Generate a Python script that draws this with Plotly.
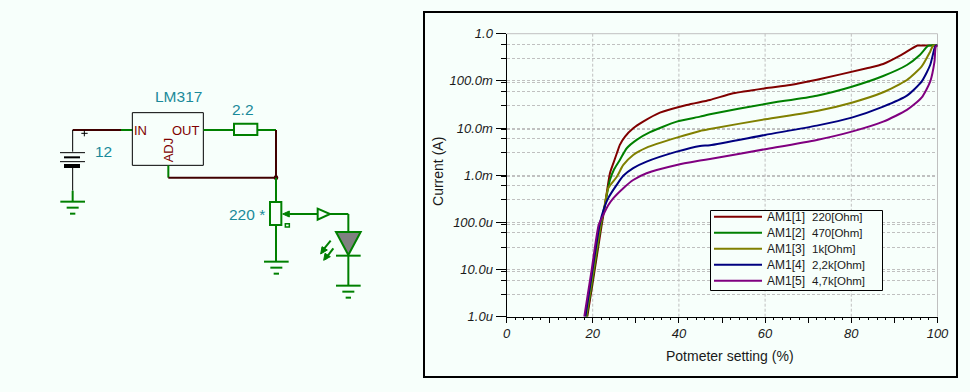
import plotly.graph_objects as go

W, H = 970, 392
BG = "#F7FFFB"
GREEN = "#008000"
WIRE = "#400000"
TEAL = "#1A8A9A"
MAROON = "#800000"
FONT = "Liberation Sans"

# ---- data (potmeter setting %, current A) -------------------------------
names = ["AM1[1]", "AM1[2]", "AM1[3]", "AM1[4]", "AM1[5]"]
loads = ["220[Ohm]", "470[Ohm]", "1k[Ohm]", "2,2k[Ohm]", "4,7k[Ohm]"]
colors = ["#800000", "#008000", "#808000", "#000080", "#800080"]

x1 = [18.75, 20.42, 22.09, 22.74, 24.0, 24.8, 25.6, 26.3, 27.5, 29.4, 31.7, 35.6, 41.8, 47.2,
      52.6, 60.0, 65.8, 72.0, 83.6, 87.4, 91.3, 95.2, 95.5, 100.0]
y1 = [1e-6, 9.3e-6, 8.9e-5, 2.0e-4, 1.10e-3, 1.8e-3, 2.92e-3, 4.39e-3, 6.58e-3, 9.9e-3, 0.01367, 0.0212, 0.0309, 0.0394,
      0.0545, 0.0697, 0.0818, 0.106, 0.185, 0.228, 0.342, 0.557, 0.56, 0.56]

x2 = [18.6, 20.3, 21.95, 22.7, 24.0, 25.0, 26.3, 27.9, 30.2, 33.3, 39.5, 44.9, 47.2, 60.0,
      72.0, 80.1, 87.4, 92.9, 95.9, 97.9, 100.0]
y2 = [1e-6, 9.5e-6, 9e-5, 2.0e-4, 7.9e-4, 1.35e-3, 2.11e-3, 3.73e-3, 5.6e-3, 8.15e-3, 0.01367, 0.01744, 0.0196, 0.0324,
      0.0486, 0.0753, 0.127, 0.217, 0.354, 0.557, 0.56]

x3 = [18.5, 20.15, 21.85, 22.65, 23.6, 25.6, 27.1, 29.4, 32.5, 39.5, 44.9, 47.2, 60.0,
      72.0, 80.1, 87.4, 92.9, 96.3, 98.3, 99.0, 100.0]
y3 = [1e-6, 9.4e-6, 8.9e-5, 2.0e-4, 5.3e-4, 9.3e-4, 1.65e-3, 2.69e-3, 3.85e-3, 6.27e-3, 8.69e-3, 9.57e-3, 0.01535,
      0.023, 0.0345, 0.0573, 0.1045, 0.2, 0.416, 0.56, 0.56]

x4 = [18.3, 19.9, 21.6, 22.55, 23.6, 25.6, 27.1, 29.4, 32.5, 39.5, 44.9, 47.2, 60.0,
      72.0, 80.1, 87.4, 92.9, 96.3, 98.3, 99.3, 99.6, 100.0]
y4 = [1e-6, 9.3e-6, 8.9e-5, 1.9e-4, 3.26e-4, 6.3e-4, 9.7e-4, 1.41e-3, 1.94e-3, 3.16e-3, 4.18e-3, 4.32e-3, 7.14e-3,
      0.01125, 0.0166, 0.0284, 0.0486, 0.0962, 0.217, 0.49, 0.56, 0.56]

x5 = [18.05, 19.72, 21.4, 22.46, 23.6, 24.8, 27.1, 29.4, 32.5, 39.5, 44.9, 47.2, 60.0,
      72.0, 80.1, 87.4, 92.9, 96.3, 98.3, 99.3, 99.6, 100.0]
y5 = [1e-6, 9.3e-6, 8.9e-5, 1.44e-4, 2.3e-4, 3.26e-4, 5.3e-4, 7.9e-4, 1.1e-3, 1.65e-3, 2.04e-3, 2.21e-3, 3.56e-3,
      5.6e-3, 8.4e-3, 0.01367, 0.0242, 0.044, 0.0962, 0.255, 0.53, 0.56]

series_x = [x1, x2, x3, x4, x5]
series_y = [y1, y2, y3, y4, y5]

x_ticks = [0, 10, 20, 30, 40, 50, 60, 70, 80, 90, 100]
x_labels = ["<i>0</i>", "", "<i>20</i>", "", "<i>40</i>", "", "<i>60</i>", "", "<i>80</i>", "", "<i>100</i>"]
x_grid = [20, 40, 60, 80]
x_minor = [v for v in range(2, 100, 2) if v % 10]
y_ticks = [1e-6, 1e-5, 1e-4, 1e-3, 1e-2, 1e-1, 1.0]
y_labels = ["<i>1.0u</i>", "<i>10.0u</i>", "<i>100.0u</i>", "<i>1.0m</i>", "<i>10.0m</i>", "<i>100.0m</i>", "<i>1.0</i>"]
y_minor = []
for d in y_ticks[1:]:
    y_minor += [d * 0.6, d * 0.3]
    if d < 1:
        y_minor.append(d * 0.92)

# ---- pixel helpers for schematic / frame --------------------------------
def px(x): return x / W
def py(y): return 1 - y / H
def zx(v): return 40 + v / 3   # schematic crop coordinates
def zy(v): return 80 + v / 3

shapes = []
def seg(a, b, c, d, color=GREEN, width=2):
    shapes.append(dict(type="line", xref="paper", yref="paper", x0=px(zx(a)), y0=py(zy(b)),
                       x1=px(zx(c)), y1=py(zy(d)), line=dict(color=color, width=width)))
def box(a, b, c, d, color=GREEN, width=2, fill=None):
    shapes.append(dict(type="rect", xref="paper", yref="paper", x0=px(zx(a)), y0=py(zy(b)),
                       x1=px(zx(c)), y1=py(zy(d)), line=dict(color=color, width=width),
                       fillcolor=fill if fill else "rgba(0,0,0,0)"))
def poly(pts, color=GREEN, width=2, fill=None):
    path = "M " + " L ".join(f"{px(zx(a)):.5f},{py(zy(b)):.5f}" for a, b in pts) + " Z"
    shapes.append(dict(type="path", xref="paper", yref="paper", path=path,
                       line=dict(color=color, width=width),
                       fillcolor=fill if fill else "rgba(0,0,0,0)"))
def ground(cx, top):
    seg(cx - 37, top, cx + 37, top)
    seg(cx - 18, top + 18, cx + 18, top + 18)
    seg(cx - 8, top + 36, cx + 8, top + 36)

# battery branch
seg(243, 150, 277, 150)
seg(98, 150, 243, 150, WIRE, 2)
seg(98, 150, 98, 215, "#000000", 1)
seg(60, 218, 135, 218, "#000000", 1)
seg(72, 232, 120, 232, "#000000", 2)
seg(60, 245, 135, 245, "#000000", 1)
seg(72, 258, 120, 258, "#000000", 4)
seg(98, 262, 98, 332, "#000000", 1)
seg(98, 332, 98, 365)
ground(98, 365)
seg(124, 160, 143, 160, "#000000", 1)
seg(133, 151, 133, 169, "#000000", 1)
# regulator
box(277, 98, 490, 256, "#000000", 1)
seg(490, 150, 582, 150)
box(582, 131, 652, 165, GREEN, 2)
seg(652, 150, 708, 150)
seg(708, 150, 708, 293, WIRE, 2)
seg(385, 256, 385, 293)
seg(385, 293, 708, 293, WIRE, 2)
shapes.append(dict(type="circle", xref="paper", yref="paper",
                   x0=px(zx(701)), x1=px(zx(715)), y0=py(zy(300)), y1=py(zy(286)),
                   fillcolor=WIRE, line=dict(color=WIRE, width=0)))
# potmeter
seg(708, 293, 708, 366)
box(690, 366, 724, 435, GREEN, 2)
seg(708, 435, 708, 545)
ground(709, 545)
box(736, 431, 748, 441, GREEN, 1.5)
poly([(728, 402), (748, 393), (748, 411)], GREEN, 1, GREEN)
seg(748, 402, 832, 402)
poly([(833, 386), (870, 402), (833, 419)], GREEN, 2)
seg(870, 402, 925, 402)
seg(925, 402, 925, 455)
# LED
poly([(888, 456), (962, 456), (925, 525)], GREEN, 2, "#808080")
seg(888, 527, 962, 527)
seg(925, 527, 925, 617)
ground(925, 617)
seg(845, 515, 872, 482, GREEN, 2)
seg(855, 538, 880, 505, GREEN, 2)
poly([(842, 522), (846, 500), (862, 510)], GREEN, 1, GREEN)
poly([(851, 541), (855, 520), (871, 530)], GREEN, 1, GREEN)

# ---- chart frame --------------------------------------------------------
shapes.append(dict(type="rect", xref="paper", yref="paper", x0=px(424), x1=px(957),
                   y0=py(377), y1=py(12), line=dict(color="#000000", width=2),
                   fillcolor="rgba(0,0,0,0)"))
for v in x_grid:
    shapes.append(dict(type="line", xref="x", yref="y domain", x0=v, x1=v, y0=0, y1=1, layer="below",
                       line=dict(color="#C0C0C0", width=1, dash="3px,2px")))
shapes.append(dict(type="line", xref="x domain", yref="y domain", x0=0, x1=1, y0=1, y1=1, layer="below",
                   line=dict(color="#C0C0C0", width=1)))
shapes.append(dict(type="line", xref="x domain", yref="y domain", x0=1, x1=1, y0=0, y1=1, layer="below",
                   line=dict(color="#C0C0C0", width=1)))

# ---- legend box ---------------------------------------------------------
shapes.append(dict(type="rect", xref="paper", yref="paper", x0=px(710.5), x1=px(882.5),
                   y0=py(290.5), y1=py(210.5), line=dict(color="#000000", width=1), fillcolor=BG))
annotations = []
for i, (n, l, c) in enumerate(zip(names, loads, colors)):
    ry = 216.7 + 16 * i
    shapes.append(dict(type="line", xref="paper", yref="paper", x0=px(714), x1=px(762),
                       y0=py(ry), y1=py(ry), line=dict(color=c, width=2)))
    annotations.append(dict(xref="paper", yref="paper", x=px(765), y=py(ry), text=n, showarrow=False,
                            xanchor="left", yanchor="middle",
                            font=dict(family=FONT, size=12, color="#1a1a1a")))
    annotations.append(dict(xref="paper", yref="paper", x=px(810), y=py(ry), text=l, showarrow=False,
                            xanchor="left", yanchor="middle",
                            font=dict(family=FONT, size=11.5, color="#1a1a1a")))

# ---- schematic texts ----------------------------------------------------
def label(text, a, b, color, size, angle=0):
    annotations.append(dict(xref="paper", yref="paper", x=px(zx(a)), y=py(zy(b)), text=text, showarrow=False,
                            xanchor="center", yanchor="middle", textangle=angle,
                            font=dict(family=FONT, size=size, color=color)))
label("LM317", 415, 50, TEAL, 15.5)
label("2.2", 608, 88, TEAL, 15.5)
label("12", 190, 213, TEAL, 15.5)
label("220 *", 620, 402, TEAL, 15.5)
label("IN", 302, 150, MAROON, 13)
label("OUT", 438, 150, MAROON, 13)
label("ADJ", 385, 210, MAROON, 13, -90)

fig = go.Figure()
for n, l, c, xs, ys in zip(names, loads, colors, series_x, series_y):
    fig.add_trace(go.Scatter(x=xs, y=ys, mode="lines", name=f"{n} {l}",
                             line=dict(color=c, width=2, shape="spline", smoothing=0.6),
                             showlegend=False, cliponaxis=False))

tick_font = dict(family=FONT, size=13, color="#1a1a1a")
title_font = dict(family=FONT, size=14, color="#1a1a1a")
fig.update_layout(
    width=W, height=H, autosize=False,
    margin=dict(l=0, r=0, t=0, b=0, pad=0),
    paper_bgcolor=BG, plot_bgcolor=BG,
    showlegend=False, shapes=shapes, annotations=annotations,
    xaxis=dict(domain=[px(506.5), px(937.5)], range=[0, 100], tickmode="array",
               tickvals=x_ticks, ticktext=x_labels, ticks="outside", ticklen=5, tickwidth=1,
               tickcolor="#000000", showline=True, linecolor="#000000", linewidth=1,
               showgrid=False, zeroline=False, tickfont=tick_font, automargin=False,
               minor=dict(tickmode="array", tickvals=x_minor, ticks="outside", ticklen=2,
                          tickcolor="#000000", tickwidth=1, showgrid=False),
               title=dict(text="&nbsp;&nbsp;&nbsp;&nbsp;Potmeter setting (%)", font=title_font, standoff=10)),
    yaxis=dict(domain=[py(316.7), py(33.7)], type="log", range=[-6, 0], tickmode="array",
               tickvals=y_ticks, ticktext=y_labels, ticks="outside", ticklen=10, tickwidth=1,
               tickcolor="#000000", showline=True, linecolor="#000000", linewidth=1,
               showgrid=True, gridcolor="#C0C0C0", griddash="3px,2px", gridwidth=1,
               zeroline=False, tickfont=tick_font, automargin=False,
               minor=dict(tickmode="array", tickvals=y_minor, ticks="outside", ticklen=5,
                          tickcolor="#000000", tickwidth=1, showgrid=True, gridcolor="#C0C0C0",
                          griddash="3px,2px", gridwidth=1),
               title=dict(text="&nbsp;&nbsp;Current (A)", font=title_font, standoff=2)),
)
fig.write_html("out.html", config=dict(displayModeBar=False),
               post_script="document.body.style.margin='0';document.body.style.background='%s';" % BG)
